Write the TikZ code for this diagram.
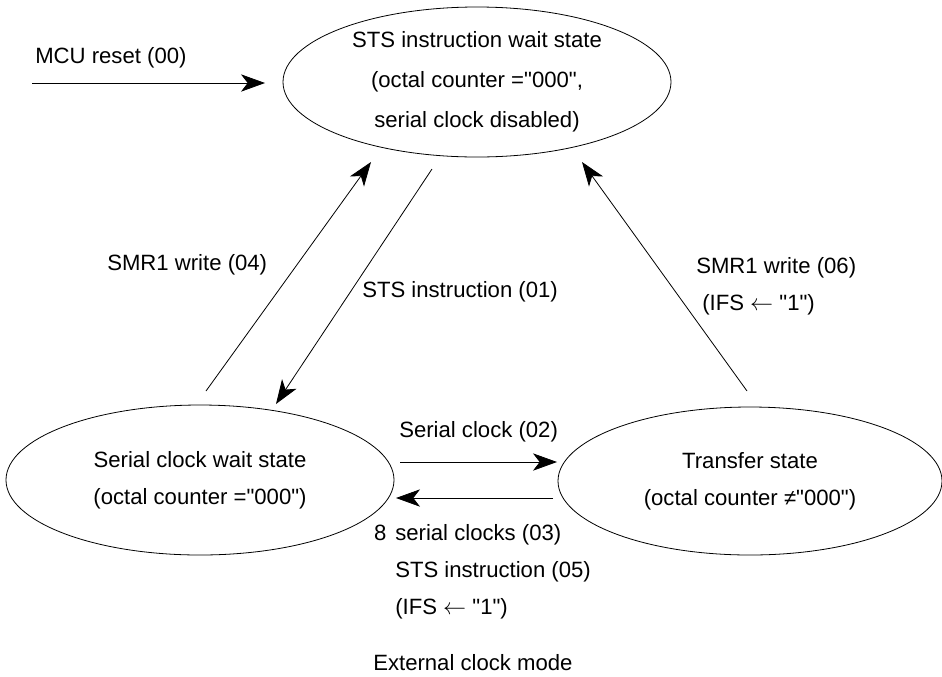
\documentclass[tikz,border=0pt]{standalone}
\usepackage{fontspec}
\setmainfont{Liberation Sans}[Ligatures=TeXOff]
\usetikzlibrary{shapes.geometric,arrows.meta}

\begin{document}
\begin{tikzpicture}[x=0.75pt,y=0.75pt,yscale=-1,xscale=1,
	every node/.style={font=\fontsize{16.6}{28}\selectfont},
	state/.style={draw,ellipse,inner sep=0pt,align=center,line width=0.6pt},
	trans/.style={-{Stealth[length=18pt,width=13pt,inset=5pt]},line width=0.6pt},
	lbl/.style={anchor=west,inner sep=0pt,align=left}]
	\useasboundingbox (0,0) rectangle (942,676);

	%States
	\node [state,minimum width=291pt,minimum height=112.5pt,font=\fontsize{16.6}{30}\selectfont] (stswait) at (477,82) {STS instruction wait state\\(octal counter ="000",\\serial clock disabled)};
	\node [state,minimum width=291pt,minimum height=112.5pt] (clkwait) at (200,480) {Serial clock wait state\\(octal counter ="000")};
	\node [state,minimum width=288pt,minimum height=111pt] (xfer) at (750,481) {Transfer state\\(octal counter ≠"000")};

	%Arrow ends
	\coordinate (rsta) at (32,83);
	\coordinate (rstb) at (265,83);
	\coordinate (a04) at (206,391);
	\coordinate (b04) at (371,162);
	\coordinate (a01) at (432,169);
	\coordinate (b01) at (276,404);
	\coordinate (a06) at (747,391);
	\coordinate (b06) at (582,162);
	\coordinate (a02) at (400,462);
	\coordinate (b02) at (557,462);
	\coordinate (a03) at (553,498);
	\coordinate (b03) at (396,498);

	%Straight Lines
	\draw [trans] (rsta) -- (rstb);
	\draw [trans] (a04) -- (b04);
	\draw [trans] (a01) -- (b01);
	\draw [trans] (a06) -- (b06);
	\draw [trans] (a02) -- (b02);
	\draw [trans] (a03) -- (b03);

	% Text Node
	\node [lbl] (l00) at (35,58) {MCU reset (00)};
	% Text Node
	\node [lbl] (l04) at (107,265) {SMR1 write (04)};
	% Text Node
	\node [lbl] (l01) at (362,292) {STS instruction (01)};
	% Text Node
	\node [lbl,font=\fontsize{16.6}{27.75}\selectfont] (l06) at (696,286) {SMR1 write (06)\\\hspace*{4.5pt}(IFS $\leftarrow$ "1")};
	% Text Node
	\node [lbl] (l02) at (399,432) {Serial clock (02)};
	% Text Node
	\node [lbl,font=\fontsize{16.6}{27.75}\selectfont] (l03) at (395,572) {\llap{8\hspace{0.4em}}serial clocks (03)\\STS instruction (05)\\(IFS $\leftarrow$ "1")};
	% Text Node
	\node [lbl] (mode) at (373,663) {External clock mode};
\end{tikzpicture}
\end{document}
